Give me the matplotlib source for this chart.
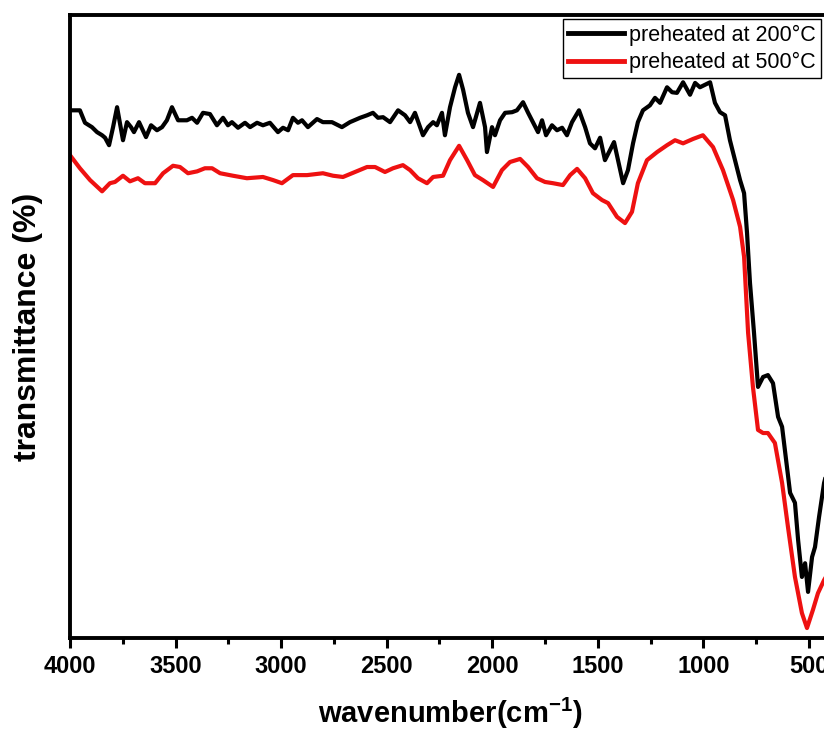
import numpy as np
import matplotlib
matplotlib.use("Agg")
import matplotlib.pyplot as plt
from matplotlib.ticker import MultipleLocator, NullLocator

plt.rcParams['mathtext.fontset'] = 'custom'
plt.rcParams['mathtext.rm'] = 'Liberation Sans'
plt.rcParams['mathtext.bf'] = 'Liberation Sans:bold'

# FTIR spectra (wavenumber in cm-1, transmittance in arbitrary %)
wn_200 = [4000, 3953, 3929, 3896, 3872, 3848, 3834, 3815, 3796, 3777, 3749, 3730, 3711, 3697,
          3673, 3640, 3616, 3588, 3564, 3541, 3517, 3488, 3446, 3422, 3398, 3370, 3337, 3304,
          3275, 3252, 3233, 3204, 3171, 3147, 3114, 3086, 3053, 3015, 2991, 2967, 2944, 2920,
          2901, 2873, 2830, 2802, 2759, 2712, 2674, 2626, 2593, 2565, 2541, 2517, 2484, 2446,
          2413, 2389, 2366, 2328, 2304, 2280, 2262, 2238, 2224, 2200, 2176, 2157, 2138, 2115,
          2091, 2058, 2034, 2025, 2001, 1987, 1963, 1939, 1906, 1883, 1854, 1830, 1807, 1783,
          1764, 1745, 1717, 1693, 1669, 1646, 1622, 1589, 1560, 1537, 1513, 1489, 1466, 1442,
          1423, 1404, 1380, 1357, 1333, 1310, 1286, 1253, 1229, 1205, 1172, 1148, 1125, 1096,
          1063, 1039, 1016, 968, 945, 921, 897, 874, 850, 826, 807, 793, 779, 760, 741, 717,
          694, 670, 646, 627, 604, 589, 566, 551, 533, 518, 504, 485, 471, 452, 428, 400]
t_200 = [84.7, 84.7, 82.7, 82.0, 81.2, 80.7, 80.3, 79.1, 82.0, 85.2, 79.9, 82.8, 82.0, 81.2,
         82.8, 80.4, 82.3, 81.5, 82.0, 83.1, 85.2, 83.1, 83.1, 83.5, 82.7, 84.3, 84.1, 82.3,
         83.5, 82.3, 82.8, 81.9, 82.7, 82.0, 82.7, 82.3, 82.7, 81.2, 81.9, 81.5, 83.5, 82.7,
         83.1, 82.0, 83.3, 82.8, 82.8, 82.0, 82.8, 83.5, 83.9, 84.3, 83.5, 83.6, 82.8, 84.7,
         83.9, 82.8, 84.3, 80.7, 82.0, 82.8, 82.3, 84.3, 80.7, 85.2, 88.4, 90.4, 88.0, 84.3,
         82.0, 85.9, 82.0, 78.0, 82.0, 80.7, 83.1, 84.3, 84.4, 84.7, 86.0, 84.3, 82.8, 81.2,
         83.1, 80.7, 82.3, 81.5, 81.9, 80.7, 82.8, 84.7, 82.0, 79.4, 78.6, 80.3, 76.7, 78.3,
         79.6, 76.7, 73.0, 75.1, 79.4, 82.8, 84.7, 85.5, 86.7, 85.9, 88.4, 87.6, 87.5, 89.2,
         87.2, 89.1, 88.4, 89.2, 85.9, 84.4, 83.9, 79.9, 76.7, 73.5, 71.4, 65.0, 57.0, 49.0,
         40.3, 41.9, 42.2, 40.9, 35.5, 33.9, 27.4, 23.3, 21.7, 15.7, 9.8, 12.0, 7.4, 13.0,
         14.6, 19.4, 24.9, 28.6]

wn_500 = [4000, 3953, 3905, 3848, 3811, 3787, 3749, 3716, 3678, 3645, 3597, 3559, 3512, 3479,
          3441, 3398, 3361, 3327, 3289, 3228, 3162, 3086, 3038, 2996, 2944, 2877, 2802, 2754,
          2707, 2650, 2593, 2555, 2508, 2470, 2423, 2389, 2352, 2309, 2280, 2233, 2200, 2157,
          2119, 2082, 2044, 1996, 1954, 1916, 1868, 1830, 1788, 1750, 1712, 1665, 1631, 1598,
          1560, 1523, 1480, 1451, 1409, 1371, 1338, 1310, 1267, 1219, 1172, 1134, 1096, 1049,
          1002, 954, 907, 859, 826, 807, 788, 765, 741, 717, 694, 661, 627, 599, 566, 533,
          509, 481, 457, 428, 400]
t_500 = [77.5, 75.4, 73.5, 71.7, 73.0, 73.2, 74.2, 73.3, 73.8, 73.0, 73.0, 74.6, 75.8, 75.6,
         74.6, 74.9, 75.4, 75.4, 74.6, 74.2, 73.8, 74.0, 73.5, 73.0, 74.3, 74.3, 74.6, 74.2,
         74.0, 74.8, 75.6, 75.6, 74.8, 75.4, 75.9, 75.1, 73.8, 73.0, 74.0, 74.2, 76.7, 79.0,
         76.7, 74.3, 73.5, 72.4, 75.1, 76.4, 76.9, 75.6, 73.8, 73.2, 73.0, 72.7, 74.3, 75.3,
         73.8, 71.4, 70.3, 69.8, 67.6, 66.6, 68.4, 73.0, 76.7, 78.0, 79.1, 79.9, 79.4, 80.1,
         80.7, 78.8, 75.1, 70.3, 66.0, 61.2, 49.0, 40.3, 33.4, 32.9, 32.9, 31.3, 24.9, 17.8,
         9.8, 4.0, 1.6, 4.5, 7.2, 9.3, 10.9]

labels = ["preheated at 200\u00b0C", "preheated at 500\u00b0C"]
colors = ["black", "#ee1111"]

fig = plt.figure(figsize=(8.24, 7.45), dpi=100)
ax = fig.add_axes([70 / 824, 107 / 745, 760 / 824, 623 / 745])

ax.plot(wn_200, t_200, color=colors[0], lw=3.0, label=labels[0])
ax.plot(wn_500, t_500, color=colors[1], lw=3.0, label=labels[1])

ax.set_xlim(4000, 400)
ax.set_ylim(0, 100)
ax.xaxis.set_major_locator(MultipleLocator(500))
ax.xaxis.set_minor_locator(MultipleLocator(250))
ax.yaxis.set_major_locator(NullLocator())
ax.tick_params(axis="x", which="major", direction="out", length=7, width=2.2, pad=5)
ax.tick_params(axis="x", which="minor", direction="out", length=4, width=2.2)
for s in ax.spines.values():
    s.set_linewidth(2.8)

font = ["Liberation Sans", "DejaVu Sans"]
for lab in ax.get_xticklabels():
    lab.set_family(font)
    lab.set_fontweight("bold")
    lab.set_fontsize(17)

ax.set_xlabel(r"wavenumber(cm$^{\mathbf{-1}}$)", fontsize=21, fontweight="bold", family=font)
ax.xaxis.set_label_coords(0.5, -0.093)
ax.set_ylabel("transmittance (%)", fontsize=23, fontweight="bold", family=font)
ax.yaxis.set_label_coords(-0.035, 0.5)

leg = fig.legend(loc="upper left", bbox_to_anchor=(563 / 824, 1 - 19 / 745),
                 prop={"family": font, "size": 15.5},
                 frameon=True, fancybox=False, edgecolor="black", framealpha=1,
                 handlelength=2.6, handletextpad=0.2, borderpad=0.25, labelspacing=0.3,
                 borderaxespad=0)
leg.get_frame().set_linewidth(1.0)
for h in leg.get_lines():
    h.set_linewidth(3.5)

fig.savefig("out.png", dpi=100)
